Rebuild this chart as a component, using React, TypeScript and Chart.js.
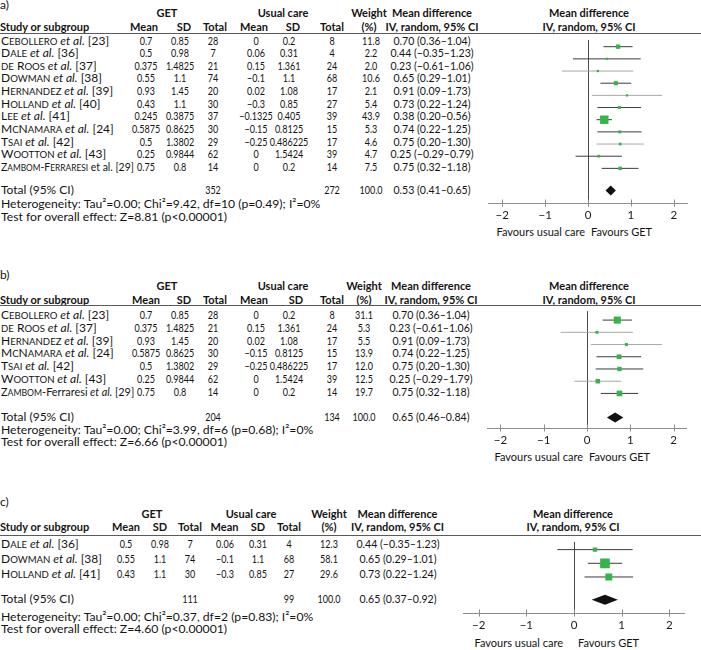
import React, { useEffect, useLayoutEffect, useRef, useState } from 'react';
import { Chart, registerables } from 'chart.js';
Chart.register(...registerables);

const FONT = 'Lato, "Noto Sans", sans-serif';

// ---------- Panel a ----------
const studyA = ['Cebollero', 'Dale', 'de Roos', 'Dowman', 'Hernandez', 'Holland', 'Lee', 'McNamara', 'Tsai', 'Wootton', 'Zambom-Ferraresi'];
const refA = [23, 36, 37, 38, 39, 40, 41, 24, 42, 43, 29];
const getMeanA = [0.7, 0.5, 0.375, 0.55, 0.93, 0.43, 0.245, 0.5875, 0.5, 0.25, 0.75];
const getSdA = [0.85, 0.98, 1.4825, 1.1, 1.45, 1.1, 0.3875, 0.8625, 1.3802, 0.9844, 0.8];
const getTotalA = [28, 7, 21, 74, 20, 30, 37, 30, 29, 62, 14];
const ucMeanA = [0, 0.06, 0.15, -0.1, 0.02, -0.3, -0.1325, -0.15, -0.25, 0, 0];
const ucSdA = [0.2, 0.31, 1.361, 1.1, 1.08, 0.85, 0.405, 0.8125, 0.486225, 1.5424, 0.2];
const ucTotalA = [8, 4, 24, 68, 17, 27, 39, 15, 17, 39, 14];
const weightA = [11.8, 2.2, 2.0, 10.6, 2.1, 5.4, 43.9, 5.3, 4.6, 4.7, 7.5];
const mdA = [0.70, 0.44, 0.23, 0.65, 0.91, 0.73, 0.38, 0.74, 0.75, 0.25, 0.75];
const loA = [0.36, -0.35, -0.61, 0.29, 0.09, 0.22, 0.20, 0.22, 0.20, -0.29, 0.32];
const hiA = [1.04, 1.23, 1.06, 1.01, 1.73, 1.24, 0.56, 1.25, 1.30, 0.79, 1.18];
const totalA = { get: 352, uc: 272, weight: 100.0, md: 0.53, lo: 0.41, hi: 0.65 };
const hetA = 'Heterogeneity: Tau²=0.00; Chi²=9.42, df=10 (p=0.49); I²=0%';
const testA = 'Test for overall effect: Z=8.81 (p<0.00001)';

// ---------- Panel b ----------
const studyB = ['Cebollero', 'de Roos', 'Hernandez', 'McNamara', 'Tsai', 'Wootton', 'Zambom-Ferraresi'];
const refB = [23, 37, 39, 24, 42, 43, 29];
const getMeanB = [0.7, 0.375, 0.93, 0.5875, 0.5, 0.25, 0.75];
const getSdB = [0.85, 1.4825, 1.45, 0.8625, 1.3802, 0.9844, 0.8];
const getTotalB = [28, 21, 20, 30, 29, 62, 14];
const ucMeanB = [0, 0.15, 0.02, -0.15, -0.25, 0, 0];
const ucSdB = [0.2, 1.361, 1.08, 0.8125, 0.486225, 1.5424, 0.2];
const ucTotalB = [8, 24, 17, 15, 17, 39, 14];
const weightB = [31.1, 5.3, 5.5, 13.9, 12.0, 12.5, 19.7];
const mdB = [0.70, 0.23, 0.91, 0.74, 0.75, 0.25, 0.75];
const loB = [0.36, -0.61, 0.09, 0.22, 0.20, -0.29, 0.32];
const hiB = [1.04, 1.06, 1.73, 1.25, 1.30, 0.79, 1.18];
const hiPrintedB = [1.04, 1.06, 1.73, 1.25, 1.30, 1.79, 1.18];
const totalB = { get: 204, uc: 134, weight: 100.0, md: 0.65, lo: 0.46, hi: 0.84 };
const hetB = 'Heterogeneity: Tau²=0.00; Chi²=3.99, df=6 (p=0.68); I²=0%';
const testB = 'Test for overall effect: Z=6.66 (p<0.00001)';

// ---------- Panel c ----------
const studyC = ['Dale', 'Dowman', 'Holland'];
const refC = [36, 38, 41];
const getMeanC = [0.5, 0.55, 0.43];
const getSdC = [0.98, 1.1, 1.1];
const getTotalC = [7, 74, 30];
const ucMeanC = [0.06, -0.1, -0.3];
const ucSdC = [0.31, 1.1, 0.85];
const ucTotalC = [4, 68, 27];
const weightC = [12.3, 58.1, 29.6];
const mdC = [0.44, 0.65, 0.73];
const loC = [-0.35, 0.29, 0.22];
const hiC = [1.23, 1.01, 1.24];
const totalC = { get: 111, uc: 99, weight: 100.0, md: 0.65, lo: 0.37, hi: 0.92 };
const hetC = 'Heterogeneity: Tau²=0.00; Chi²=0.37, df=2 (p=0.83); I²=0%';
const testC = 'Test for overall effect: Z=4.60 (p<0.00001)';

const xTicks = [-2, -1, 0, 1, 2];

// ---------- layout (positions / styles) ----------
const LAYOUT: any = {
  a: {
    labelY: 5, head1: 13, head2: 27, line: 33.5, row0: 40.5, step: 12.65, totalY: 190, axisY: 203,
    het: 204, test: 216.5, favY: 231.5, axisL: 483, axisR: 693, favR: 585, favL: 591,
    cols: { mean: 146, sd: 180, total: 213, ucMean: 256, ucSd: 289, ucTotal: 332, weight: 371, md: 432, plot: 589, get: 167, uc: 283 },
    hcols: { mean: 144, sd: 184, total: 215, ucMean: 254, ucSd: 293, ucTotal: 332, weight: 369 },
    nameMax: 133, grayRows: [2, 4, 8], etAlUprightLast: true, tailPlain: false,
  },
  b: {
    labelY: 275, head1: 286, head2: 300, line: 305.5, row0: 315, step: 12.8, totalY: 417, axisY: 428,
    het: 429.5, test: 442, favY: 457, axisL: 482, axisR: 692, favR: 583, favL: 589,
    cols: { mean: 146, sd: 180, total: 213, ucMean: 256, ucSd: 289, ucTotal: 332, weight: 364, md: 431, plot: 589, get: 167, uc: 283 },
    hcols: { mean: 146, sd: 184, total: 215, ucMean: 254, ucSd: 296, ucTotal: 332, weight: 364 },
    nameMax: 133, grayRows: [1, 2, 5], etAlUprightLast: false, tailPlain: true,
  },
  c: {
    labelY: 502, head1: 513.5, head2: 527, line: 535, row0: 543.5, step: 15, totalY: 598.5, axisY: 613,
    het: 616.5, test: 628.5, favY: 643, axisL: 457, axisR: 691, favR: 563, favL: 578,
    cols: { mean: 126, sd: 160, total: 190, ucMean: 224.5, ucSd: 258, ucTotal: 289, weight: 329, md: 397.5, plot: 573, get: 152, uc: 251 },
    hcols: { mean: 126, sd: 160, total: 190, ucMean: 224.5, ucSd: 258, ucTotal: 289, weight: 329 },
    nameMax: 112, grayRows: [], etAlUprightLast: false, tailPlain: false,
  },
};

const AXIS_H = 24;
const FS = 12;
const NUM_SX = 0.75;
const CI_SX = 0.88;

const fmt = (v: number) => (v < 0 ? '−' : '') + String(Math.abs(v));
const f2 = (v: number) => (v < 0 ? '−' : '') + Math.abs(v).toFixed(2);
const ciText = (m: number, l: number, h: number) => `${f2(m)} (${f2(l)}–${f2(h)})`;

const Txt = ({ x, y, a = 'c', b = false, fs, sx = 1, children }: any) => (
  <div
    style={{
      position: 'absolute', left: x, top: y,
      transform: `translate(${a === 'c' ? '-50%' : a === 'r' ? '-100%' : '0'}, -50%) scaleX(${sx})`,
      transformOrigin: a === 'c' ? '50% 50%' : a === 'r' ? '100% 50%' : '0 50%',
      whiteSpace: 'nowrap', fontWeight: b ? 700 : 400, lineHeight: '14px',
      fontSize: fs || (b ? 11 : FS),
    }}
  >
    {children}
  </div>
);

function NameCell({ x, y, maxW, children }: any) {
  const ref = useRef<HTMLDivElement>(null);
  const [sx, setSx] = useState(1);
  useLayoutEffect(() => {
    if (ref.current) {
      const w = ref.current.scrollWidth;
      setSx(w > maxW ? maxW / w : 1);
    }
  }, []);
  return (
    <div
      ref={ref}
      style={{
        position: 'absolute', left: x, top: y, transform: `translateY(-50%) scaleX(${sx})`,
        transformOrigin: '0 50%', whiteSpace: 'nowrap', lineHeight: '14px', fontSize: FS,
      }}
    >
      {children}
    </div>
  );
}

// small caps drawn with real capitals at a reduced size
function SmallCaps({ text }: { text: string }) {
  const parts: { s: string; small: boolean }[] = [];
  for (const ch of text) {
    const small = ch !== ch.toUpperCase();
    const last = parts[parts.length - 1];
    if (last && last.small === small) last.s += ch;
    else parts.push({ s: ch, small });
  }
  return (
    <>
      {parts.map((p, i) =>
        p.small ? <span key={i} style={{ fontSize: '0.8em' }}>{p.s.toUpperCase()}</span> : <span key={i}>{p.s}</span>
      )}
    </>
  );
}

function StudyName({ name, refNo, upright, tailPlain }: any) {
  let sc = name;
  let tail = '';
  if (tailPlain && name.includes('-')) {
    const k = name.indexOf('-') + 1;
    sc = name.slice(0, k);
    tail = name.slice(k);
  }
  return (
    <>
      <SmallCaps text={sc} />
      {tail}
      {upright ? ' et al.' : <i> et al.</i>} [{refNo}]
    </>
  );
}

function Forest({ L, md, lo, hi, weight, total }: any) {
  const ref = useRef<HTMLCanvasElement>(null);
  const w = L.axisR - L.axisL;
  const h = L.axisY - L.line + AXIS_H;
  useEffect(() => {
    const T = (L.totalY - L.row0) / L.step;
    const yMin = (L.line - L.row0) / L.step;
    const yMax = (L.axisY - L.row0) / L.step;
    const ciSets = md.map((_: number, i: number) => ({
      type: 'scatter',
      showLine: true,
      data: [{ x: lo[i], y: i }, { x: hi[i], y: i }],
      borderColor: L.grayRows.includes(i) ? '#a8a8a8' : '#3c3c3c',
      borderWidth: 1,
      pointRadius: 0,
      order: 1,
    }));
    const squares = {
      type: 'scatter',
      data: md.map((m: number, i: number) => ({ x: m, y: i })),
      pointStyle: 'rect',
      pointRadius: weight.map((wt: number) => Math.max(1.6, 0.9 * Math.sqrt(wt))),
      backgroundColor: '#35b44b',
      borderWidth: 0,
      order: 0,
    };
    const diamond = {
      id: 'diamond',
      afterDatasetsDraw(chart: any) {
        const xs = chart.scales.x, ys = chart.scales.y, ctx = chart.ctx;
        const py = ys.getPixelForValue(T);
        const half = 5;
        ctx.save();
        ctx.fillStyle = '#111';
        ctx.beginPath();
        ctx.moveTo(xs.getPixelForValue(total.lo), py);
        ctx.lineTo(xs.getPixelForValue(total.md), py - half);
        ctx.lineTo(xs.getPixelForValue(total.hi), py);
        ctx.lineTo(xs.getPixelForValue(total.md), py + half);
        ctx.closePath();
        ctx.fill();
        ctx.restore();
      },
    };
    const tickMarks = {
      id: 'tickMarks',
      afterDraw(chart: any) {
        const xs = chart.scales.x, ctx = chart.ctx;
        const y0 = chart.chartArea.bottom;
        ctx.save();
        ctx.strokeStyle = '#8c8c8c';
        ctx.lineWidth = 1;
        xs.ticks.forEach((t: any) => {
          const px = Math.round(xs.getPixelForValue(t.value)) + 0.5;
          ctx.beginPath();
          ctx.moveTo(px, y0 - 3.5);
          ctx.lineTo(px, y0 + 3.5);
          ctx.stroke();
        });
        ctx.restore();
      },
    };
    const chart = new Chart(ref.current as HTMLCanvasElement, {
      type: 'scatter',
      data: { datasets: [squares, ...ciSets] as any },
      options: {
        animation: false,
        responsive: false,
        events: [],
        layout: { padding: 0 },
        plugins: { legend: { display: false }, tooltip: { enabled: false } },
        scales: {
          x: {
            type: 'linear',
            min: -2.31,
            max: 2.31,
            afterFit: (s: any) => { s.height = AXIS_H; },
            afterBuildTicks: (s: any) => { s.ticks = xTicks.map((v) => ({ value: v })); },
            grid: {
              display: true,
              drawOnChartArea: true,
              drawTicks: false,
              color: (c: any) => (c.tick && c.tick.value === 0 ? '#4a4a4a' : 'rgba(0,0,0,0)'),
            },
            border: { display: true, color: '#8c8c8c', width: 1 },
            ticks: {
              padding: 5,
              autoSkip: false,
              maxRotation: 0,
              color: '#1a1a1a',
              font: { family: FONT, size: 11.5 },
              callback: (v: any) => fmt(Number(v)),
            },
          },
          y: { type: 'linear', display: false, reverse: true, min: yMin, max: yMax },
        },
      } as any,
      plugins: [diamond, tickMarks],
    });
    return () => chart.destroy();
  }, []);
  return (
    <canvas
      ref={ref}
      width={w}
      height={h}
      style={{ position: 'absolute', left: L.axisL, top: L.line, width: w, height: h }}
    />
  );
}

function Panel({ id, label, study, refs, getMean, getSd, getTotal, ucMean, ucSd, ucTotal, weight, md, lo, hi, hiText, total, het, test }: any) {
  const L = LAYOUT[id];
  const C = L.cols;
  const H = L.hcols;
  const rowY = (i: number) => L.row0 + i * L.step;
  const n = study.length;
  return (
    <>
      <Txt x={0} y={L.labelY} a="l">{label}</Txt>
      <Txt x={C.get} y={L.head1} b>GET</Txt>
      <Txt x={C.uc} y={L.head1} b>Usual care</Txt>
      <Txt x={H.weight} y={L.head1} b>Weight</Txt>
      <Txt x={C.md} y={L.head1} b>Mean difference</Txt>
      <Txt x={C.plot} y={L.head1} b>Mean difference</Txt>
      <Txt x={0} y={L.head2} a="l" b>Study or subgroup</Txt>
      <Txt x={H.mean} y={L.head2} b>Mean</Txt>
      <Txt x={H.sd} y={L.head2} b>SD</Txt>
      <Txt x={H.total} y={L.head2} b>Total</Txt>
      <Txt x={H.ucMean} y={L.head2} b>Mean</Txt>
      <Txt x={H.ucSd} y={L.head2} b>SD</Txt>
      <Txt x={H.ucTotal} y={L.head2} b>Total</Txt>
      <Txt x={H.weight} y={L.head2} b>(%)</Txt>
      <Txt x={C.md} y={L.head2} b>IV, random, 95% CI</Txt>
      <Txt x={C.plot} y={L.head2} b>IV, random, 95% CI</Txt>
      <div style={{ position: 'absolute', left: 0, top: L.line - 0.5, width: 701, height: 0, borderTop: '1px solid #5a5a5a' }} />
      {study.map((s: string, i: number) => (
        <React.Fragment key={i}>
          <NameCell x={1} y={rowY(i)} maxW={L.nameMax}>
            <StudyName name={s} refNo={refs[i]} upright={L.etAlUprightLast && i === n - 1} tailPlain={L.tailPlain} />
          </NameCell>
          <Txt x={C.mean} y={rowY(i)} sx={NUM_SX}>{fmt(getMean[i])}</Txt>
          <Txt x={C.sd} y={rowY(i)} sx={NUM_SX}>{fmt(getSd[i])}</Txt>
          <Txt x={C.total} y={rowY(i)} sx={NUM_SX}>{getTotal[i]}</Txt>
          <Txt x={C.ucMean} y={rowY(i)} sx={NUM_SX}>{fmt(ucMean[i])}</Txt>
          <Txt x={C.ucSd} y={rowY(i)} sx={NUM_SX}>{fmt(ucSd[i])}</Txt>
          <Txt x={C.ucTotal} y={rowY(i)} sx={NUM_SX}>{ucTotal[i]}</Txt>
          <Txt x={C.weight} y={rowY(i)} sx={NUM_SX}>{weight[i].toFixed(1)}</Txt>
          <Txt x={C.md} y={rowY(i)} sx={CI_SX}>{ciText(md[i], lo[i], hiText ? hiText[i] : hi[i])}</Txt>
        </React.Fragment>
      ))}
      <Txt x={1} y={L.totalY} a="l">Total (95% CI)</Txt>
      <Txt x={C.total} y={L.totalY} sx={NUM_SX}>{total.get}</Txt>
      <Txt x={C.ucTotal} y={L.totalY} sx={NUM_SX}>{total.uc}</Txt>
      <Txt x={C.weight} y={L.totalY} sx={NUM_SX}>{total.weight.toFixed(1)}</Txt>
      <Txt x={C.md} y={L.totalY} sx={CI_SX}>{ciText(total.md, total.lo, total.hi)}</Txt>
      <Txt x={1} y={L.het} a="l" fs={12.2}>{het}</Txt>
      <Txt x={1} y={L.test} a="l" fs={12.2}>{test}</Txt>
      <Txt x={L.favR} y={L.favY} a="r" fs={11}>Favours usual care</Txt>
      <Txt x={L.favL} y={L.favY} a="l" fs={11}>Favours GET</Txt>
      <Forest L={L} md={md} lo={lo} hi={hi} weight={weight} total={total} />
    </>
  );
}

export default function App() {
  return (
    <div
      style={{
        position: 'absolute', left: 0, top: 0, width: 701, height: 650, overflow: 'hidden',
        background: '#fff', fontFamily: FONT, fontSize: FS, color: '#141414',
      }}
    >
      <Panel id="a" label="a)" study={studyA} refs={refA} getMean={getMeanA} getSd={getSdA} getTotal={getTotalA}
        ucMean={ucMeanA} ucSd={ucSdA} ucTotal={ucTotalA} weight={weightA} md={mdA} lo={loA} hi={hiA}
        total={totalA} het={hetA} test={testA} />
      <Panel id="b" label="b)" study={studyB} refs={refB} getMean={getMeanB} getSd={getSdB} getTotal={getTotalB}
        ucMean={ucMeanB} ucSd={ucSdB} ucTotal={ucTotalB} weight={weightB} md={mdB} lo={loB} hi={hiB} hiText={hiPrintedB}
        total={totalB} het={hetB} test={testB} />
      <Panel id="c" label="c)" study={studyC} refs={refC} getMean={getMeanC} getSd={getSdC} getTotal={getTotalC}
        ucMean={ucMeanC} ucSd={ucSdC} ucTotal={ucTotalC} weight={weightC} md={mdC} lo={loC} hi={hiC}
        total={totalC} het={hetC} test={testC} />
    </div>
  );
}
